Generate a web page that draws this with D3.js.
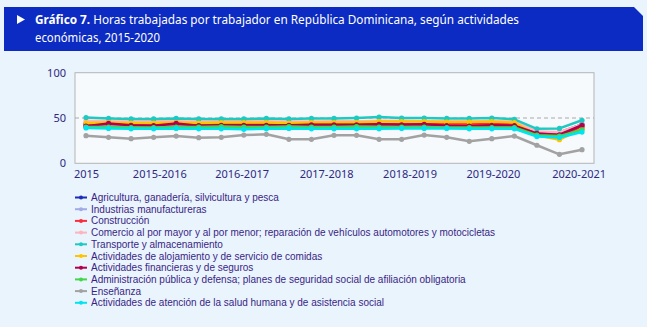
<!DOCTYPE html>
<head>
    <meta charset="utf-8">
    <script src="https://d3js.org/d3.v7.min.js"></script>
    <style>
        body { margin: 0; background: #e9f4fc; }
        text { font-family: "Noto Sans", sans-serif; }
    </style>
</head>
<body>
<script>
    const width = 647, height = 327;

    // periods (quarters), x tick labels and where they sit (in period units)
    const periods = d3.range(23);
    const tickLabels = ["2015", "2015-2016", "2016-2017", "2017-2018", "2018-2019", "2019-2020", "2020-2021"];
    const tickAt = [0, 3.25, 6.9, 10.65, 14.35, 18.05, 21.85];

    const names = [
        "Agricultura, ganadería, silvicultura y pesca",
        "Industrias manufactureras",
        "Construcción",
        "Comercio al por mayor y al por menor; reparación de vehículos automotores y motocicletas",
        "Transporte y almacenamiento",
        "Actividades de alojamiento y de servicio de comidas",
        "Actividades financieras y de seguros",
        "Administración pública y defensa; planes de seguridad social de afiliación obligatoria",
        "Enseñanza",
        "Actividades de atención de la salud humana y de asistencia social"
    ];
    const colors = ["#1b2bbd", "#a3a9e6", "#ff2b3c", "#ffb3bd", "#1ec9c2", "#ffc400", "#b1004c", "#44d64a", "#a2a2a2", "#00e4f2"];

    const agricultura = [43, 43, 42.5, 42.5, 43, 42.5, 42.5, 42.5, 42.5, 42, 42, 42, 42, 42, 42, 42, 41.5, 41.5, 41.5, 41.5, 34, 34, 43];
    const industrias = [41.5, 41, 41, 41, 41, 41, 41, 41, 41, 41, 41, 41, 41, 41, 41, 41, 40.5, 40.5, 41, 40.5, 32, 32, 39];
    const construccion = [43.5, 43.5, 43, 43, 43.5, 43, 43, 43, 43.5, 43, 43, 43, 43.5, 43.5, 43.5, 43.5, 43, 43, 43.5, 43, 32, 31, 40];
    const comercio = [47, 46.5, 46, 46.5, 46.5, 46, 46.5, 46.5, 46.5, 46, 46, 46.5, 46.5, 47, 47, 46.5, 46.5, 46.5, 46.5, 46, 35, 34.5, 43];
    const transporte = [50.5, 49.5, 49, 49, 49.5, 49, 49, 49, 49.5, 49, 49.5, 49.5, 50, 51, 50, 50, 49.5, 49.5, 50, 48.5, 38, 38.5, 47.5];
    const alojamiento = [44.5, 45, 44.5, 44.5, 45, 44.5, 45, 45, 45, 44.5, 45, 45, 45, 46, 46, 46, 45.5, 45.5, 46, 45, 31, 26, 38];
    const financieras = [41, 44, 42, 41.5, 44, 41.5, 42, 42, 42, 42, 42.5, 42.5, 42.5, 43, 42.5, 43, 41.5, 41, 42, 41.5, 33, 31.5, 42];
    const administracion = [40, 40, 39.5, 39.5, 40, 40, 40.5, 40, 40, 40.5, 40, 40, 40.5, 40, 40, 40, 39.5, 39.5, 39.5, 39.5, 31, 30, 37];
    const ensenanza = [30.5, 28.7, 27.2, 28.7, 30.1, 28.3, 28.7, 31.2, 32, 26.5, 26.5, 30.9, 30.9, 26.5, 26.5, 31.2, 28.7, 24.3, 27.2, 30.1, 19.9, 9.9, 15];
    const salud = [39, 38.5, 38, 38, 38.5, 38, 38, 37.5, 38, 38.5, 38, 38, 38, 38, 38.5, 38.5, 38.5, 38, 38, 38, 29.5, 28.5, 34.5];

    const series = [agricultura, industrias, construccion, comercio, transporte,
        alojamiento, financieras, administracion, ensenanza, salud]
        .map((v, i) => ({name: names[i], color: colors[i], values: v}));

    const svg = d3.select("body").append("svg")
        .attr("width", width)
        .attr("height", height);

    // header banner
    svg.append("path")
        .attr("d", "M4,7 H634 L643,16 V51 H4 Z")
        .attr("fill", "#0b2bc2");
    svg.append("path")
        .attr("d", "M17,15 L25,19.5 L17,24 Z")
        .attr("fill", "#fff");
    const t1 = svg.append("text").attr("x", 35).attr("y", 24)
        .attr("fill", "#fff").attr("font-size", 13);
    t1.append("tspan").attr("font-weight", "bold").text("Gráfico 7.");
    t1.append("tspan").text(" Horas trabajadas por trabajador en República Dominicana, según actividades");
    t1.attr("textLength", 484).attr("lengthAdjust", "spacingAndGlyphs");
    svg.append("text").attr("x", 35).attr("y", 42)
        .attr("fill", "#fff").attr("font-size", 13)
        .attr("textLength", 125).attr("lengthAdjust", "spacingAndGlyphs")
        .text("económicas, 2015-2020");

    const x = d3.scaleLinear().domain([0, 22]).range([86, 582]);
    const y = d3.scaleLinear().domain([0, 100]).range([163.3, 72.7]);

    // plot frame
    svg.append("rect")
        .attr("x", 75).attr("y", y(100))
        .attr("width", 594 - 75).attr("height", y(0) - y(100))
        .attr("fill", "#f6fafd").attr("stroke", "#b4b4b4");

    svg.append("line")
        .attr("x1", 75).attr("x2", 594)
        .attr("y1", y(50)).attr("y2", y(50))
        .attr("stroke", "#a8a8a8").attr("stroke-dasharray", "4,3");

    const yAxis = svg.append("g")
        .attr("transform", "translate(75,0)")
        .call(d3.axisLeft(y).tickValues([0, 50, 100]).tickSize(0).tickPadding(9));
    yAxis.select(".domain").remove();
    yAxis.selectAll("text").attr("font-size", 11).attr("fill", "#302880")
        .style("font-family", "Noto Sans");

    const xAxis = svg.append("g")
        .attr("transform", "translate(0," + y(0) + ")")
        .call(d3.axisBottom(x).tickValues(tickAt).tickSize(0).tickPadding(7)
            .tickFormat((d, i) => tickLabels[i]));
    xAxis.select(".domain").remove();
    xAxis.selectAll("text").attr("font-size", 11).attr("fill", "#302880")
        .style("font-family", "Noto Sans");

    const line = d3.line().x((d, i) => x(periods[i])).y(d => y(d));

    const g = svg.selectAll(".serie").data(series).enter().append("g");
    g.append("path")
        .attr("d", d => line(d.values))
        .attr("fill", "none")
        .attr("stroke", d => d.color)
        .attr("stroke-width", 2.5)
        .attr("stroke-linejoin", "round");
    g.selectAll("circle").data(d => d.values.map(v => ({v: v, c: d.color})))
        .enter().append("circle")
        .attr("cx", (d, i) => x(periods[i]))
        .attr("cy", d => y(d.v))
        .attr("r", 2.6)
        .attr("fill", d => d.c);

    // legend
    const leg = svg.selectAll(".leg").data(series).enter().append("g")
        .attr("transform", (d, i) => "translate(75," + (197.5 + i * 11.7) + ")");
    leg.append("line")
        .attr("x1", 0).attr("x2", 12)
        .attr("stroke", d => d.color).attr("stroke-width", 2);
    leg.append("circle").attr("cx", 6).attr("r", 2).attr("fill", d => d.color);
    leg.append("text")
        .attr("x", 16).attr("y", 3.5)
        .attr("font-size", 10)
        .style("font-family", "'Liberation Sans', Arial, sans-serif")
        .attr("fill", "#3a1f86")
        .text(d => d.name);
</script>
</body>
